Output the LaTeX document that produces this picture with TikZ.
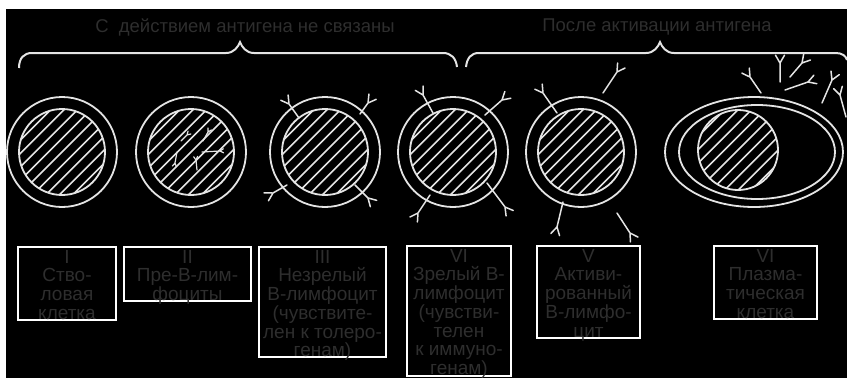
\documentclass[tikz,border=0pt]{standalone}
\usepackage{fontspec}
\setmainfont{Liberation Sans}
\usetikzlibrary{calc,positioning}
\definecolor{linegray}{HTML}{E4E4E4}
\definecolor{textgray}{HTML}{2E2E2E}

\begin{document}
\begin{tikzpicture}[x=1pt, y=-1pt,
        membrane/.style={line width=1.8pt, linegray},
        hatch/.style={line width=1.6pt, linegray},
        ab/.style={line width=1.5pt, linegray, line cap=round},
        smallab/.style={line width=1.2pt, linegray, line cap=round},
        brace/.style={line width=2pt, linegray},
        labelbox/.style={draw=white, line width=2pt, rectangle, inner sep=0pt},
        lbl/.style={anchor=north, inner sep=0pt, yshift=-4pt, text=textgray,
                    align=center, font=\fontsize{19}{18.7}\selectfont},
        ttl/.style={text=textgray, inner sep=0pt, font=\fontsize{18.5}{20}\selectfont}
      ]
        % Rahmen
        \useasboundingbox (0,0) rectangle (847,378);
        \fill[black] (6,9) rectangle (847,378);

        % Ueberschriften
        \node[ttl] (title1) at (245,27) {С\ \ действием антигена не связаны};
        \node[ttl] (title2) at (657,27) {После активации антигена};

        % Klammern
        \draw[brace] (19,68) .. controls (19,58) and (24,53) .. (32,53) -- (226,53)
          .. controls (234,53) and (238,47) .. (240,42)
          .. controls (242,47) and (246,53) .. (254,53) -- (443,53)
          .. controls (451,53) and (456,58) .. (457,67);
        \draw[brace] (466,67) .. controls (467,58) and (471,53) .. (479,53) -- (646,53)
          .. controls (654,53) and (658,47) .. (660,42)
          .. controls (662,47) and (666,53) .. (674,53) -- (836,53)
          .. controls (842,53) and (846,56) .. (847,60);

        % Zellen I-V (Membran, Kern, Schraffur)
        \foreach \cx in {62,191,325,453,581} {%
          \begin{scope}
            \clip (\cx,152) circle (43);
            \foreach \k in {-7,...,7} {\draw[hatch] (\cx+\k*13.4-60,152+60) -- ++(120,-120);}
          \end{scope}
          \draw[membrane] (\cx,152) circle (55);
          \draw[membrane] (\cx,152) circle (43);
        }

        % Plasmazelle
        \begin{scope}
          \clip (738,150) circle (40);
          \foreach \k in {-6,...,6} {\draw[hatch] (738+\k*13.4-60,150+60) -- ++(120,-120);}
        \end{scope}
        \draw[membrane] (754,152) ellipse [x radius=89, y radius=55];
        \draw[membrane] (757,152) ellipse [x radius=78, y radius=47];
        \draw[membrane] (738,150) circle (40);

        % Antikoerper (Fuss -> Gabel)
        \foreach \bx/\by/\fx/\fy in {%
            299/118/289/104, 360/114/368/103, 287/185/273/193, 355/185/368/198,
            433/113/423/95, 485/115/502/100, 430/195/418/213, 487/183/505/207,
            557/113/543/93, 603/93/617/72, 563/202/557/227, 617/213/630/233,
            761/93/750/77, 780/82/780/63, 790/77/802/63, 785/90/808/82,
            822/103/832/80, 846/117/840/95} {%
          \draw[ab] (\bx,\by) -- (\fx,\fy) -- ($(\fx,\fy)!9pt!150:(\bx,\by)$)
            (\fx,\fy) -- ($(\fx,\fy)!9pt!-150:(\bx,\by)$);
        }

        % Rezeptoren im Kern (Zelle II)
        \foreach \bx/\by/\fx/\fy in {%
            181/141/187/135, 203/141/208/132, 202/152/220/151,
            177/152/175/163, 197/170/196/160} {%
          \draw[smallab] (\bx,\by) -- (\fx,\fy) -- ($(\fx,\fy)!4pt!150:(\bx,\by)$)
            (\fx,\fy) -- ($(\fx,\fy)!4pt!-150:(\bx,\by)$);
        }

        % Beschriftungskaesten
        \foreach \n/\x/\y/\w/\h/\t in {%
            I/67/283.5/98/73/{I\\Ство-\\ловая\\клетка},
            II/187.5/274/127/54/{II\\Пре-В-лим-\\фоциты},
            III/322.5/302/127/110/{III\\Незрелый\\В-лимфоцит\\(чувствите-\\лен к толеро-\\генам)},
            IV/459/311/104/130/{VI\\Зрелый В-\\лимфоцит\\(чувстви-\\телен\\к иммуно-\\генам)},
            V/588.5/292/103/92/{V\\Активи-\\рованный\\В-лимфо-\\цит},
            VI/765.5/282.5/103/73/{VI\\Плазма-\\тическая\\клетка}} {%
          \node[labelbox, minimum width=\w, minimum height=\h] (box\n) at (\x,\y) {};
          \node[lbl] (txt\n) at (box\n.north) {\t};
        }
      \end{tikzpicture}
\end{document}
